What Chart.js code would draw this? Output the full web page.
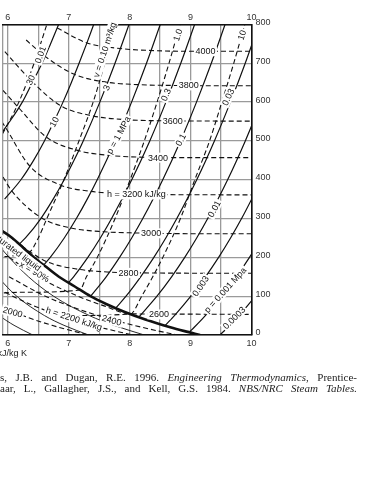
<!DOCTYPE html>
<html>
<head>
<meta charset="utf-8">
<script src="https://cdn.jsdelivr.net/npm/chart.js@4.4.1/dist/chart.umd.min.js"></script>
<style>
  body { margin: 0; background: #fff; width: 371px; height: 480px; overflow: hidden; position: relative; }
  #steamChart { position: absolute; left: 0; top: 0; }
  .ref { position: absolute; left: 0; width: 357px; font: 11px/11px "Liberation Serif", "DejaVu Serif", serif; color: #222;
         text-align: justify; text-align-last: justify; white-space: nowrap; }
</style>
</head>
<body>
<canvas id="steamChart" width="371" height="480"></canvas>
<div class="ref" style="top:372px;">s, J.B. and Dugan, R.E. 1996. <i>Engineering Thermodynamics</i>, Prentice-</div>
<div class="ref" style="top:383px;">aar, L., Gallagher, J.S., and Kell, G.S. 1984. <i>NBS/NRC Steam Tables.</i></div>
<script>
// axes : entropie s (kJ/kg K) et température T (°C)
const sTicks = [6, 7, 8, 9, 10];
const tTicks = [0, 100, 200, 300, 400, 500, 600, 700, 800];

// courbe de saturation (vapeur saturée), points [s, T]
const satVapor = [[5.886,270],[6.072,250],[6.252,225],[6.430,200],[6.632,175],[6.838,150],[7.098,125],[7.355,100],[7.613,80],[7.909,60],[8.257,40],[8.666,20],[8.901,10],[9.156,0]];

// titres x = 90 %, 80 %, 70 %
const q90 = [[5.744,250],[6.02,200],[6.338,150],[6.75,100],[7.339,50],[7.739,25],[8.24,0]];
const q80 = [[5.61,200],[5.839,150],[6.145,100],[6.602,50],[6.92,25],[7.325,0]];
const q70 = [[5.541,100],[5.864,50],[6.101,25],[6.409,0]];

// isobares (MPa)
const p30 = [[5.44,450],[5.796,500],[6.03,550],[6.237,600],[6.40,650],[6.561,700],[6.70,750],[6.833,800]];
const p10 = [[5.946,350],[6.214,400],[6.422,450],[6.600,500],[6.757,550],[6.905,600],[7.041,650],[7.169,700],[7.292,750],[7.409,800]];
const p3 = [[6.186,234],[6.289,250],[6.541,300],[6.744,350],[6.924,400],[7.086,450],[7.237,500],[7.510,600],[7.759,700],[7.989,800]];
const p1 = [[6.586,180],[6.696,200],[6.926,250],[7.125,300],[7.303,350],[7.467,400],[7.764,500],[8.031,600],[8.276,700],[8.502,800]];
const p0_3 = [[6.992,134],[7.079,150],[7.313,200],[7.518,250],[7.703,300],[8.034,400],[8.330,500],[8.595,600],[8.839,700],[9.066,800]];
const p0_1 = [[7.359,100],[7.614,150],[7.834,200],[8.033,250],[8.215,300],[8.543,400],[8.834,500],[9.097,600],[9.340,700],[9.566,800]];
const p0_03 = [[7.768,69],[7.94,100],[8.18,150],[8.397,200],[8.593,250],[8.774,300],[9.101,400],[9.391,500],[9.654,600],[9.897,700],[10.12,800]];
const p0_01 = [[8.149,46],[8.448,100],[8.688,150],[8.904,200],[9.100,250],[9.281,300],[9.608,400],[9.898,500],[10.161,600]];
const p0_003 = [[8.578,24],[8.735,50],[9.004,100],[9.244,150],[9.46,200],[9.656,250],[9.837,300],[10.164,400]];
const p0_001 = [[8.975,7],[9.06,20],[9.242,50],[9.511,100],[9.751,150],[9.967,200],[10.163,250]];
const p0_0003 = [[9.478,0],[9.615,20],[9.797,50],[10.066,100]];

// isochores (m3/kg)
const v0_01 = [[5.85,500],[6.18,600],[6.43,700],[6.64,800]];
const v0_1 = [[5.55,200],[6.34,212],[6.50,250],[6.64,300],[6.92,400],[7.167,500],[7.40,600],[7.59,700],[7.76,800]];
const v1 = [[5.54,105],[6.226,110],[7.18,116],[7.29,150],[7.468,200],[7.76,300],[8.007,400],[8.24,500],[8.45,600],[8.645,700],[8.826,800]];
const v10 = [[6.83,50],[8.01,54],[8.198,100],[8.544,200],[8.833,300],[9.069,400],[9.311,500],[9.513,600],[9.708,700],[9.889,800]];

// isenthalpes (kJ/kg)
const h4000 = [[6.81,791],[7.29,753],[7.85,738],[8.35,733],[9.0,731],[10,731]];
const h3800 = [[6.30,760],[6.61,718],[7.10,671],[7.64,651],[8.14,645],[8.70,643],[10,642]];
const h3600 = [[5.95,730],[6.41,651],[6.875,590],[7.41,564],[7.91,555],[8.5,552],[10,551]];
const h3400 = [[5.92,630],[6.18,585],[6.63,510],[7.16,475],[7.65,463],[8.21,458],[8.71,457],[10,457]];
const h3200 = [[5.90,550],[5.98,530],[6.36,435],[6.87,386],[7.37,370],[7.91,364],[8.42,362],[10,361]];
const h3000 = [[5.92,407],[6.06,372],[6.55,302],[7.03,276],[7.58,266],[8.08,263],[9.14,261],[10,261]];
const h2800 = [[5.92,268],[6.19,234],[6.64,189],[7.17,169],[7.67,162],[8.2,160],[10,159]];
const h2600 = [[6.021,200],[6.49,150],[7.15,100],[7.58,75],[7.99,55],[8.5,54],[10,53]];
const h2400 = [[6.019,150],[6.616,100],[7.096,70],[7.479,50],[7.94,30],[8.478,10],[8.786,0]];
const h2200 = [[5.84,120],[6.079,100],[6.43,75],[6.863,50],[7.394,25],[7.77,10],[8.054,0]];
const h2000 = [[5.855,75],[6.244,50],[6.723,25],[7.32,0]];

// étiquettes des courbes : texte, position (s, T), angle
const curveNotes = [
  ['30', 6.373, 657, -65], ['0.01', 6.535, 722, -70], ['10', 6.762, 549, -62],
  ['v = 0.10 m³/kg', 7.59, 735, -72], ['3', 7.62, 637, -66], ['p = 1 MPa', 7.817, 515, -62],
  ['1.0', 8.79, 773, -72], ['4000', 9.244, 731, 0], ['0.3', 8.595, 619, -67],
  ['3800', 8.968, 643, 0], ['10', 9.844, 773, -72], ['0.03', 9.617, 613, -65],
  ['3600', 8.709, 551, 0], ['0.1', 8.839, 503, -63], ['3400', 8.466, 457, 0],
  ['h = 3200 kJ/kg', 8.11, 362, 0], ['0.01', 9.39, 325, -62], ['3000', 8.352, 262, 0],
  ['2800', 7.979, 160, 0], ['0.003', 9.163, 126, -56], ['p = 0.001 Mpa', 9.568, 116, -48],
  ['0.0003', 9.715, 44, -45], ['2600', 8.48, 53, 0], ['2400', 7.703, 38, 15],
  ['h = 2200 kJ/kg', 7.087, 42, 18], ['2000', 6.08, 59, 16], ['x = 90%', 6.438, 163, 30],
  ['Saturated liquid', 6.114, 218, 37]
];

function curve(points, width, dash) {
  return {
    data: points.map(p => ({ x: p[0], y: p[1] })),
    showLine: true,
    borderColor: '#111',
    borderWidth: width,
    borderDash: dash,
    pointRadius: 0,
    cubicInterpolationMode: 'monotone'
  };
}

const dashed = [5, 3];
const datasets = [
  curve(satVapor, 2.6, []),
  ...[q90, q80, q70].map(c => curve(c, 0.9, [])),
  ...[p30, p10, p3, p1, p0_3, p0_1, p0_03, p0_01, p0_003, p0_001, p0_0003].map(c => curve(c, 1.2, [])),
  ...[v0_01, v0_1, v1, v10].map(c => curve(c, 1.1, dashed)),
  ...[h4000, h3800, h3600, h3400, h3200, h3000, h2800, h2600, h2400, h2200, h2000].map(c => curve(c, 1.1, dashed))
];

// plugin pour les étiquettes sur les courbes
const notesPlugin = {
  id: 'notes',
  afterDatasetsDraw(chart) {
    const ctx = chart.ctx;
    const xs = chart.scales.x, ys = chart.scales.y;
    ctx.save();
    ctx.font = '9px "Liberation Sans", Arial, sans-serif';
    ctx.textAlign = 'center';
    ctx.textBaseline = 'middle';
    curveNotes.forEach(([txt, s, t, rot]) => {
      const px = xs.getPixelForValue(s), py = ys.getPixelForValue(t);
      const w = ctx.measureText(txt).width;
      ctx.save();
      ctx.translate(px, py);
      ctx.rotate(rot * Math.PI / 180);
      ctx.fillStyle = '#fff';
      ctx.fillRect(-w / 2 - 1.5, -5, w + 3, 10);
      ctx.fillStyle = '#111';
      ctx.fillText(txt, 0, 0.5);
      ctx.restore();
    });
    // titre de l'axe s
    ctx.textAlign = 'right';
    ctx.fillStyle = '#222';
    ctx.fillText('s, kJ/kg K', 27, 354);
    ctx.restore();
  }
};

const tickFont = { family: '"Liberation Sans", Arial, sans-serif', size: 9 };
// n'afficher que les valeurs entières de s
const sLabel = v => {
  const r = Math.round(v);
  return (Math.abs(v - r) < 1e-6 && sTicks.includes(r)) ? String(r) : '';
};
const sGrid = s => {
  const ticks = [{ value: 5.92 }];
  for (let k = 12; k <= 20; k++) ticks.push({ value: k / 2 });
  s.ticks = ticks;
};

new Chart(document.getElementById('steamChart'), {
  type: 'scatter',
  data: { datasets },
  options: {
    responsive: false,
    animation: false,
    events: [],
    layout: { padding: { left: 0, top: 10.5, right: 0, bottom: 125 } },
    plugins: { legend: { display: false }, tooltip: { enabled: false } },
    scales: {
      x: {
        type: 'linear', position: 'bottom', min: 5.92, max: 10,
        afterFit: s => { s.height = 20; },
        afterBuildTicks: sGrid,
        ticks: { autoSkip: false, maxRotation: 0, padding: 3, color: '#333', font: tickFont, callback: sLabel },
        grid: { color: '#9a9a9a', lineWidth: 1.3, drawTicks: false },
        border: { display: true, color: '#111', width: 1.6 }
      },
      xTop: {
        type: 'linear', position: 'top', min: 5.92, max: 10,
        afterFit: s => { s.height = 14; },
        afterBuildTicks: sGrid,
        ticks: { autoSkip: false, maxRotation: 0, padding: 2, color: '#333', font: tickFont, callback: sLabel },
        grid: { display: false, drawTicks: false },
        border: { display: true, color: '#111', width: 1.6 }
      },
      y: {
        type: 'linear', position: 'right', min: 0, max: 800,
        afterFit: s => { s.width = 119.5; },
        afterBuildTicks: s => { s.ticks = tTicks.map(v => ({ value: v })); },
        ticks: { padding: 4, labelOffset: -2, color: '#333', font: tickFont },
        grid: { color: '#9a9a9a', lineWidth: 1.3, drawTicks: false },
        border: { display: true, color: '#111', width: 1.6 }
      }
    }
  },
  plugins: [notesPlugin]
});
</script>
</body>
</html>
